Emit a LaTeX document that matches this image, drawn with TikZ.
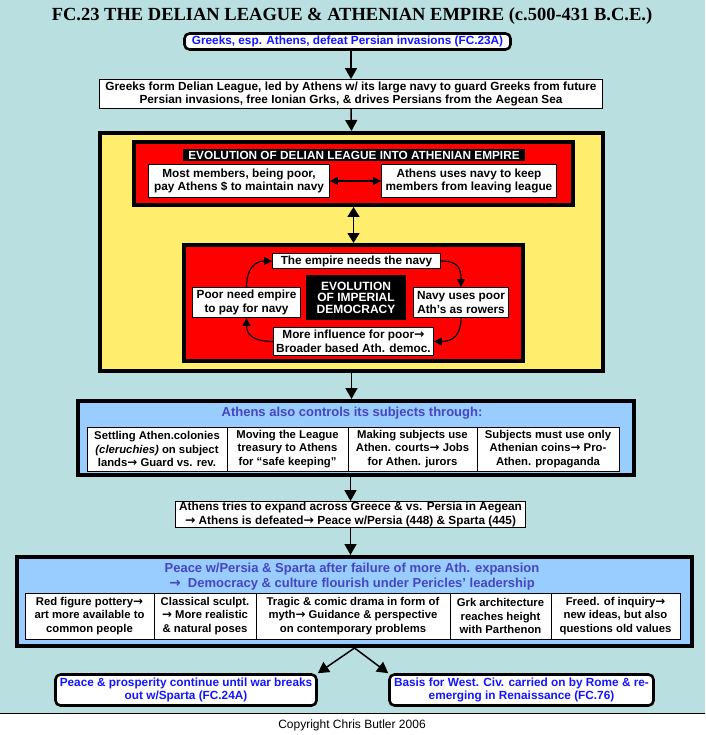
\documentclass[tikz,border=0pt]{standalone}
\usepackage{fontspec}
\setmainfont{Liberation Sans}
\newfontfamily\titlefont{Liberation Serif}
\newfontfamily\arrowfont[Scale=1.05]{DejaVu Sans}
\newcommand{\goesto}{{\arrowfont\bfseries →}}
\usetikzlibrary{arrows.meta,positioning}
\definecolor{seabg}{HTML}{BADFE1}
\definecolor{empireyel}{HTML}{FFEE6E}
\definecolor{leaguered}{HTML}{FF0000}
\definecolor{subjblue}{HTML}{99CCFF}
\definecolor{hdrblue}{HTML}{4646C0}
\definecolor{linkblue}{HTML}{1414FF}

\begin{document}
\begin{tikzpicture}[
  x=1pt, y=-1pt,
  font=\fontsize{11.8}{13.5}\selectfont\bfseries,
  plain/.style = {draw=black, line width=0.8pt, fill=white, align=center, inner sep=0pt},
  link/.style  = {draw=black, line width=2.6pt, fill=white, rounded corners=5pt,
                  text=linkblue, align=center, inner sep=0pt},
  panel/.style = {draw=black, line width=4pt, inner sep=0pt},
  cell/.style  = {plain, outer sep=0pt, font=\fontsize{11.3}{13.5}\selectfont\bfseries},
  core/.style  = {fill=black, text=white, align=center, inner sep=0pt},
  hdr/.style   = {text=hdrblue, align=center, inner sep=0pt, font=\fontsize{13}{15}\selectfont\bfseries},
  ln/.style    = {-{Triangle[length=11pt,width=12pt]}, line width=1.5pt},
  dbl/.style   = {{Triangle[length=8pt,width=8pt]}-{Triangle[length=8pt,width=8pt]}, line width=1.5pt},
  vdbl/.style  = {{Triangle[length=10pt,width=12pt]}-{Triangle[length=10pt,width=12pt]}, line width=1.5pt},
  cyc/.style   = {-{Triangle[length=8pt,width=8pt]}, line width=1.2pt},
]
\useasboundingbox (0,0) rectangle (705,735);
\fill[seabg] (0,0) rectangle (705,713);
\draw[line width=1pt] (0,713.5) -- (705,713.5);

% --- title and the start of the story ------------------------------------------------------------
\node[font=\titlefont\fontsize{18.5}{20}\selectfont\bfseries] (title) at (352,16)
  {FC.23 THE DELIAN LEAGUE \& ATHENIAN EMPIRE (c.500-431 B.C.E.)};
\node[link, minimum width=326, minimum height=16] (greeks) at (347.5,41.5)
  {Greeks, esp. Athens, defeat Persian invasions (FC.23A)};
\node[plain, minimum width=503, minimum height=29] (form) at (351,94)
  {Greeks form Delian League, led by Athens w/ its large navy to guard Greeks from future\\
   Persian invasions, free Ionian Grks, \& drives Persians from the Aegean Sea};

% --- league into empire ----------------------------------------------------------------------------
\node[panel, fill=empireyel, minimum width=503, minimum height=238] (empire) at (351.5,252) {};
\node[panel, fill=leaguered, minimum width=439, minimum height=63] (league) at (353.5,173.5) {};
\node[core, minimum width=342, minimum height=12] (leaguehd) at (354,155)
  {EVOLUTION OF DELIAN LEAGUE INTO ATHENIAN EMPIRE};
\node[plain, minimum width=181, minimum height=33] (members) at (239,181)
  {Most members, being poor,\\pay Athens \$ to maintain navy};
\node[plain, minimum width=175, minimum height=33] (keep) at (469,181)
  {Athens uses navy to keep\\members from leaving league};

% --- the imperial democracy cycle -----------------------------------------------------------------
\node[panel, fill=leaguered, minimum width=339, minimum height=116] (cycle) at (353.5,303) {};
\node[plain, minimum width=168, minimum height=15] (needs) at (356.5,261) {The empire needs the navy};
\node[core, minimum width=100, minimum height=45, font=\fontsize{12}{11.5}\selectfont\bfseries]
  (core) at (356,297.5) {EVOLUTION\\OF IMPERIAL\\DEMOCRACY};
\node[plain, minimum width=108, minimum height=30] (poor) at (246.5,302.5) {Poor need empire\\to pay for navy};
\node[plain, minimum width=95, minimum height=30] (rowers) at (461,302.5) {Navy uses poor\\Ath’s as rowers};
\node[plain, minimum width=160, minimum height=28] (influence) at (353.5,341.5)
  {More influence for poor\goesto\\Broader based Ath. democ.};

% --- other means of control ------------------------------------------------------------------------
\node[panel, fill=subjblue, minimum width=556, minimum height=74] (subjects) at (355.5,438) {};
\node[hdr] (subjhd) at (352,413) {Athens also controls its subjects through:};
\node[cell, minimum width=140, minimum height=44] (colonies) at (157,449)
  {Settling Athen.colonies\\\textit{(cleruchies)} on subject\\lands\goesto{} Guard vs. rev.};
\node[cell, minimum width=121, minimum height=44, right=0pt of colonies] (treasury)
  {Moving the League\\treasury to Athens\\for “safe keeping”};
\node[cell, minimum width=129, minimum height=44, right=0pt of treasury] (courts)
  {Making subjects use\\Athen. courts\goesto{} Jobs\\for Athen. jurors};
\node[cell, minimum width=142, minimum height=44, right=0pt of courts] (coins)
  {Subjects must use only\\Athenian coins\goesto{} Pro-\\Athen. propaganda};

\node[plain, minimum width=350, minimum height=26] (expand) at (350.5,514.5)
  {Athens tries to expand across Greece \& vs. Persia in Aegean\\
   \goesto{} Athens is defeated\goesto{} Peace w/Persia (448) \& Sparta (445)};

% --- the age of Pericles ------------------------------------------------------------------------------
\node[panel, fill=subjblue, minimum width=675, minimum height=89] (pericles) at (354.5,601.5) {};
\node[hdr] (perihd) at (352,576.5)
  {Peace w/Persia \& Sparta after failure of more Ath. expansion\\
   \goesto\ \ Democracy \& culture flourish under Pericles’ leadership};
\node[cell, minimum width=129, minimum height=46] (pottery) at (89.5,616)
  {Red figure pottery\goesto\\art more available to\\common people};
\node[cell, minimum width=102, minimum height=46, right=0pt of pottery] (sculpt)
  {Classical sculpt.\\\goesto{} More realistic\\\& natural poses};
\node[cell, minimum width=194, minimum height=46, right=0pt of sculpt] (drama)
  {Tragic \& comic drama in form of\\myth\goesto{} Guidance \& perspective\\on contemporary problems};
\node[cell, minimum width=101, minimum height=46, right=0pt of drama] (parthenon)
  {Grk architecture\\reaches height\\with Parthenon};
\node[cell, minimum width=129, minimum height=46, right=0pt of parthenon] (inquiry)
  {Freed. of inquiry\goesto\\new ideas, but also\\questions old values};

\node[link, minimum width=261, minimum height=31] (peace) at (186,690)
  {Peace \& prosperity continue until war breaks\\out w/Sparta (FC.24A)};
\node[link, minimum width=264, minimum height=31] (basis) at (521.5,690)
  {Basis for West. Civ. carried on by Rome \& re-\\emerging in Renaissance (FC.76)};

\node[font=\fontsize{12}{14}\selectfont\mdseries] (copy) at (352,725) {Copyright Chris Butler 2006};

% --- connectors -----------------------------------------------------------------------------------
\draw[ln] (form.north |- greeks.south) -- (form.north);
\draw[ln] (form.south) -- (empire.north);
\draw[dbl] (members.east) -- (keep.west);
\draw[vdbl] (league.south) -- (cycle.north);
\draw[cyc] (needs.east) .. controls +(16,0) and +(0,-20) .. (rowers.north);
\draw[cyc] (rowers.south) .. controls +(0,18) and +(18,0) .. (influence.east);
\draw[cyc] (influence.west) .. controls +(-18,0) and +(0,18) .. (poor.south);
\draw[cyc] (poor.north) .. controls +(0,-20) and +(-16,0) .. (needs.west);
\draw[ln] (empire.south) -- (empire.south |- subjects.north);
\draw[ln] (expand.north |- subjects.south) -- (expand.north);
\draw[ln] (expand.south) -- (expand.south |- pericles.north);
\draw[ln] (pericles.south) -- (peace.north east);
\draw[ln] (pericles.south) -- (basis.north west);

\end{tikzpicture}
\end{document}
